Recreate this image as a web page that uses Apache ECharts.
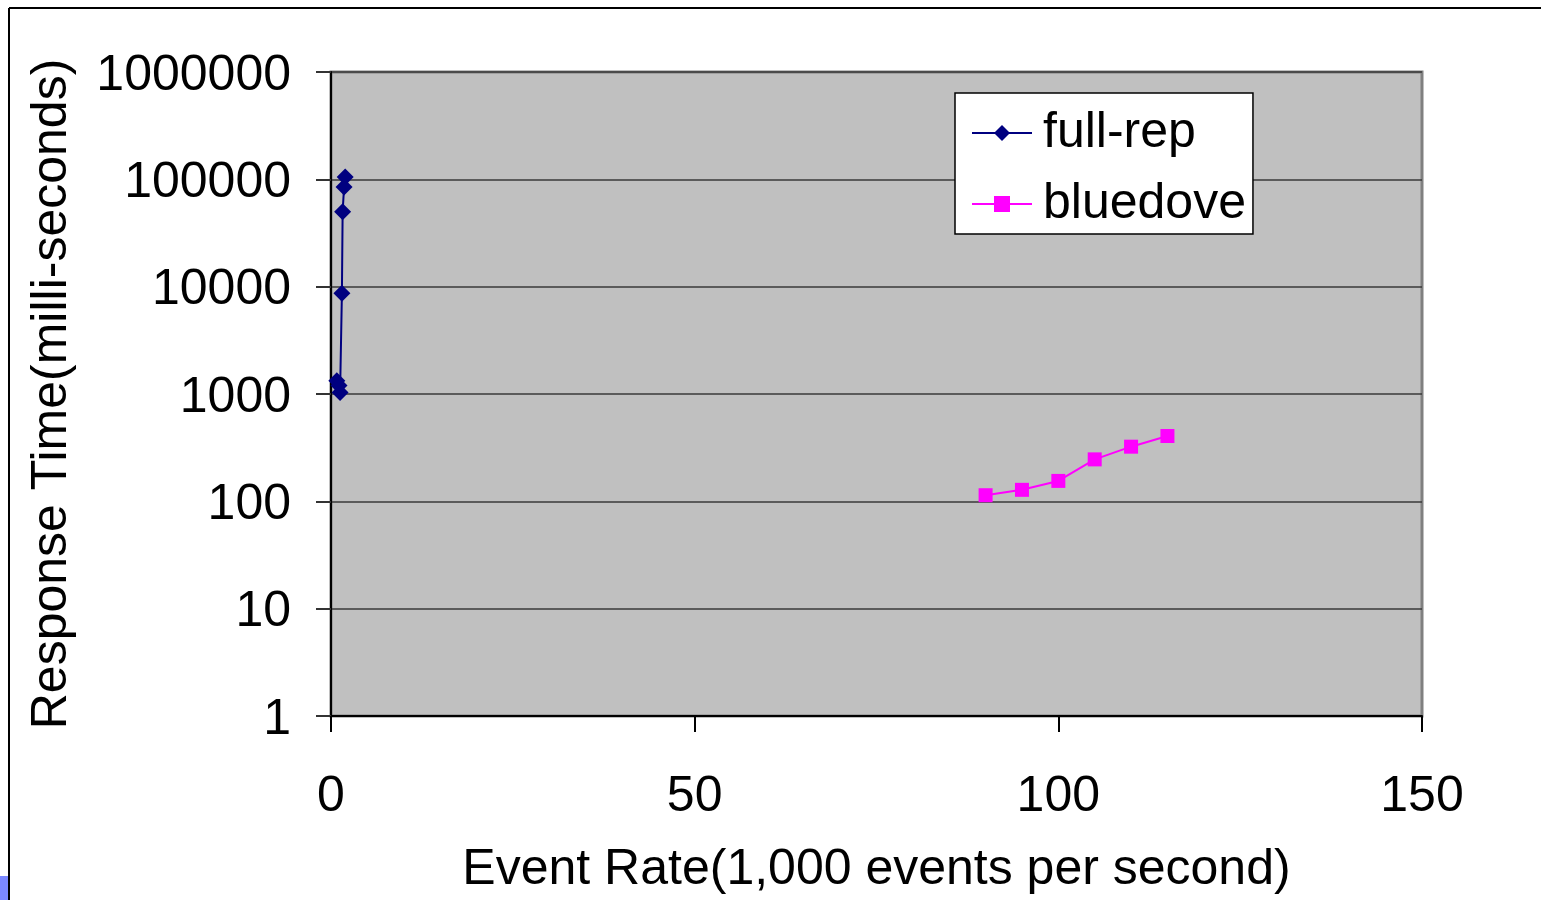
<!DOCTYPE html>
<html>
<head>
<meta charset="utf-8">
<script src="https://cdn.jsdelivr.net/npm/echarts@6/dist/echarts.min.js"></script>
<style>
  html, body { margin: 0; padding: 0; background: #ffffff; }
  #chart { width: 1541px; height: 900px; }
</style>
</head>
<body>
<div id="chart"></div>
<script>
// Event rate (thousands of events per second) and response time (ms)
const fullRepRate = [0.8, 1.1, 1.25, 1.5, 1.6, 1.8, 1.95];
const fullRepTime = [1330, 1200, 1030, 8700, 50000, 85000, 105000];
const bluedoveRate = [90, 95, 100, 105, 110, 115];
const bluedoveTime = [114, 128, 155, 246, 323, 406];

const seriesNames = ['full-rep', 'bluedove'];
const xAxisTitle = 'Event Rate(1,000 events per second)';
const yAxisTitle = 'Response Time(milli-seconds)';

const FONT = '"Liberation Sans", Arial, sans-serif';

function pairs(xs, ys) { return xs.map((x, i) => [x, ys[i]]); }

const chart = echarts.init(document.getElementById('chart'), null, { renderer: 'canvas' });

chart.setOption({
  animation: false,
  backgroundColor: '#ffffff',
  textStyle: { fontFamily: FONT, color: '#000' },
  grid: {
    left: 331, top: 72, right: 119, bottom: 184,
    containLabel: false,
    outerBoundsMode: 'none',
    show: true,
    backgroundColor: '#c0c0c0',
    borderColor: '#808080',
    borderWidth: 3
  },
  legend: {
    data: seriesNames,
    orient: 'vertical',
    left: 955,
    top: 93,
    backgroundColor: '#ffffff',
    borderColor: '#000000',
    borderWidth: 1.5,
    borderRadius: 0,
    padding: [15, 7, 5, 16],
    itemWidth: 60,
    itemHeight: 20,
    itemGap: 21,
    textStyle: { fontFamily: FONT, fontSize: 50, color: '#000', lineHeight: 50, padding: [0, 0, 0, 6] }
  },
  xAxis: {
    type: 'value',
    min: 0, max: 150, interval: 50,
    name: xAxisTitle,
    nameLocation: 'middle',
    nameGap: 129,
    nameTextStyle: { fontFamily: FONT, fontSize: 50, color: '#000' },
    axisLine: { show: true, onZero: false, lineStyle: { color: '#000', width: 2 } },
    axisTick: { show: true, length: 16, lineStyle: { color: '#000', width: 2 } },
    axisLabel: { fontFamily: FONT, fontSize: 50, color: '#000', margin: 56 },
    splitLine: { show: false }
  },
  yAxis: {
    type: 'log',
    logBase: 10,
    min: 1, max: 1000000,
    name: yAxisTitle,
    nameLocation: 'middle',
    nameGap: 254,
    nameRotate: 90,
    nameTextStyle: { fontFamily: FONT, fontSize: 50, color: '#000' },
    axisLine: { show: true, lineStyle: { color: '#000', width: 2 } },
    axisTick: { show: true, length: 15, lineStyle: { color: '#333', width: 2 } },
    axisLabel: {
      fontFamily: FONT, fontSize: 50, color: '#000', margin: 40,
      formatter: v => '{v|' + Math.round(v) + '}',
      rich: {
        v: { fontFamily: FONT, fontSize: 50, color: '#000', padding: [8, 0, 0, 0] }
      }
    },
    splitLine: { show: true, lineStyle: { color: '#3a3a3a', width: 1.5 } }
  },
  series: [
    {
      name: seriesNames[0],
      type: 'line',
      data: pairs(fullRepRate, fullRepTime),
      symbol: 'diamond',
      symbolSize: 17,
      lineStyle: { color: '#000080', width: 2 },
      itemStyle: { color: '#000080' },
      z: 3
    },
    {
      name: seriesNames[1],
      type: 'line',
      data: pairs(bluedoveRate, bluedoveTime),
      symbol: 'rect',
      symbolSize: 14,
      lineStyle: { color: '#ff00ff', width: 2 },
      itemStyle: { color: '#ff00ff' },
      z: 3
    }
  ],
  graphic: [
    { type: 'line', shape: { x1: 9, y1: 8, x2: 1541, y2: 8 }, style: { stroke: '#000', lineWidth: 2 } },
    { type: 'line', shape: { x1: 9, y1: 8, x2: 9, y2: 900 }, style: { stroke: '#000', lineWidth: 2 } },
    { type: 'rect', shape: { x: 0, y: 876, width: 8, height: 24 }, style: { fill: '#7b88ff' } }
  ]
});
</script>
</body>
</html>
